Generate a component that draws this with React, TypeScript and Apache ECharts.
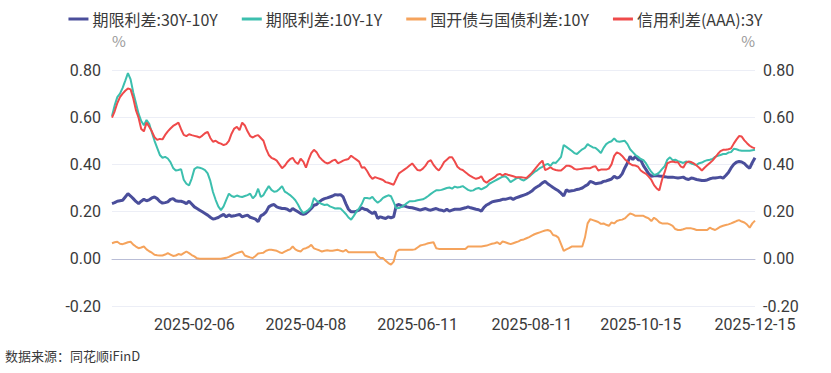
import React, { useEffect, useRef } from "react";
import * as echarts from "echarts";

// ---- data ----
const seriesNames = ["期限利差:30Y-10Y", "期限利差:10Y-1Y", "国开债与国债利差:10Y", "信用利差(AAA):3Y"];
const seriesColors = ["#4a4e9b", "#3cbfae", "#f5a35c", "#ef4a4a"];
const tickLabels = ["2025-02-06", "2025-04-08", "2025-06-11", "2025-08-11", "2025-10-15", "2025-12-15"];
const yTicks = [-0.2, 0, 0.2, 0.4, 0.6, 0.8];
const startDate = "2024-12-16";
const endDate = "2025-12-15";
const holidays = [
  "2025-01-01", "2025-01-28", "2025-01-29", "2025-01-30", "2025-01-31", "2025-02-03", "2025-02-04",
  "2025-04-04", "2025-05-01", "2025-05-02", "2025-05-05", "2025-06-02",
  "2025-10-01", "2025-10-02", "2025-10-03", "2025-10-06", "2025-10-07", "2025-10-08",
];

const term30_10 = [
  0.234, 0.238, 0.244, 0.246, 0.248, 0.262, 0.276, 0.266, 0.255, 0.243,
  0.234, 0.244, 0.252, 0.246, 0.250, 0.258, 0.262, 0.255, 0.243, 0.236,
  0.238, 0.241, 0.252, 0.255, 0.246, 0.244, 0.244, 0.240, 0.234, 0.244,
  0.232, 0.220, 0.213, 0.206, 0.199, 0.192, 0.185, 0.176, 0.168, 0.171,
  0.175, 0.182, 0.188, 0.178, 0.186, 0.180, 0.182, 0.185, 0.188, 0.178,
  0.182, 0.185, 0.176, 0.172, 0.168, 0.157, 0.182, 0.188, 0.199, 0.220,
  0.227, 0.230, 0.220, 0.216, 0.213, 0.213, 0.210, 0.202, 0.213, 0.206,
  0.199, 0.192, 0.188, 0.192, 0.202, 0.213, 0.227, 0.230, 0.241, 0.250,
  0.255, 0.258, 0.262, 0.266, 0.272, 0.270, 0.272, 0.262, 0.234, 0.210,
  0.199, 0.199, 0.202, 0.206, 0.216, 0.210, 0.208, 0.199, 0.192, 0.199,
  0.171, 0.178, 0.174, 0.171, 0.178, 0.174, 0.178, 0.226, 0.230, 0.224,
  0.224, 0.220, 0.217, 0.216, 0.213, 0.210, 0.206, 0.210, 0.213, 0.208,
  0.206, 0.210, 0.213, 0.208, 0.206, 0.202, 0.210, 0.202, 0.206, 0.210,
  0.210, 0.210, 0.213, 0.216, 0.220, 0.216, 0.213, 0.210, 0.208, 0.202,
  0.218, 0.228, 0.234, 0.241, 0.244, 0.246, 0.248, 0.252, 0.252, 0.255,
  0.258, 0.252, 0.258, 0.262, 0.266, 0.270, 0.274, 0.280, 0.287, 0.298,
  0.305, 0.312, 0.322, 0.328, 0.318, 0.310, 0.302, 0.295, 0.288, 0.278,
  0.266, 0.292, 0.286, 0.288, 0.290, 0.294, 0.296, 0.300, 0.308, 0.314,
  0.328, 0.324, 0.318, 0.320, 0.322, 0.328, 0.330, 0.334, 0.338, 0.350,
  0.342, 0.346, 0.360, 0.385, 0.406, 0.434, 0.420, 0.434, 0.420, 0.418,
  0.395, 0.378, 0.360, 0.350, 0.352, 0.353, 0.351, 0.350, 0.348, 0.346,
  0.346, 0.346, 0.344, 0.342, 0.344, 0.346, 0.339, 0.336, 0.342, 0.340,
  0.336, 0.334, 0.332, 0.332, 0.334, 0.339, 0.342, 0.342, 0.344, 0.346,
  0.342, 0.353, 0.366, 0.385, 0.400, 0.409, 0.412, 0.410, 0.404, 0.392,
  0.384, 0.408, 0.428,
];

const term10_1 = [
  0.605, 0.650, 0.685, 0.700, 0.724, 0.755, 0.787, 0.760, 0.705, 0.660,
  0.615, 0.584, 0.566, 0.588, 0.572, 0.535, 0.500, 0.470, 0.440, 0.428,
  0.432, 0.425, 0.410, 0.385, 0.374, 0.376, 0.380, 0.335, 0.318, 0.311,
  0.340, 0.380, 0.388, 0.386, 0.382, 0.376, 0.362, 0.330, 0.283, 0.250,
  0.222, 0.206, 0.222, 0.250, 0.276, 0.266, 0.262, 0.268, 0.264, 0.262,
  0.266, 0.270, 0.276, 0.256, 0.268, 0.297, 0.262, 0.270, 0.290, 0.308,
  0.292, 0.284, 0.286, 0.296, 0.308, 0.285, 0.278, 0.270, 0.260, 0.248,
  0.230, 0.208, 0.194, 0.200, 0.208, 0.220, 0.258, 0.246, 0.238, 0.232,
  0.228, 0.230, 0.222, 0.218, 0.213, 0.214, 0.213, 0.202, 0.190, 0.175,
  0.166, 0.182, 0.200, 0.214, 0.232, 0.258, 0.258, 0.255, 0.262, 0.248,
  0.238, 0.246, 0.258, 0.264, 0.269, 0.265, 0.240, 0.214, 0.215, 0.220,
  0.227, 0.236, 0.244, 0.244, 0.245, 0.248, 0.250, 0.252, 0.258, 0.266,
  0.275, 0.283, 0.290, 0.290, 0.292, 0.296, 0.300, 0.302, 0.297, 0.306,
  0.302, 0.304, 0.308, 0.300, 0.292, 0.288, 0.290, 0.297, 0.300, 0.294,
  0.300, 0.306, 0.318, 0.324, 0.330, 0.336, 0.342, 0.348, 0.350, 0.340,
  0.325, 0.332, 0.340, 0.344, 0.336, 0.332, 0.340, 0.348, 0.358, 0.368,
  0.375, 0.384, 0.390, 0.398, 0.402, 0.394, 0.408, 0.406, 0.418, 0.432,
  0.482, 0.474, 0.466, 0.458, 0.448, 0.444, 0.455, 0.464, 0.470, 0.486,
  0.478, 0.472, 0.470, 0.460, 0.448, 0.470, 0.486, 0.494, 0.498, 0.510,
  0.498, 0.496, 0.498, 0.500, 0.486, 0.464, 0.452, 0.440, 0.432, 0.423,
  0.418, 0.404, 0.385, 0.368, 0.355, 0.358, 0.366, 0.380, 0.392, 0.420,
  0.430, 0.418, 0.420, 0.414, 0.410, 0.406, 0.412, 0.410, 0.404, 0.400,
  0.398, 0.405, 0.408, 0.414, 0.418, 0.420, 0.423, 0.432, 0.436, 0.440,
  0.444, 0.444, 0.450, 0.452, 0.466, 0.464, 0.460, 0.458, 0.458, 0.458,
  0.458, 0.460, 0.462,
];

const cdbSpread10 = [
  0.066, 0.070, 0.072, 0.064, 0.062, 0.066, 0.070, 0.072, 0.060, 0.052,
  0.045, 0.048, 0.052, 0.040, 0.032, 0.026, 0.017, 0.015, 0.014, 0.014,
  0.018, 0.024, 0.018, 0.012, 0.014, 0.020, 0.017, 0.024, 0.031, 0.024,
  0.016, 0.010, 0.002, 0.000, 0.000, 0.000, 0.000, 0.000, 0.000, 0.000,
  0.000, 0.000, 0.002, 0.004, 0.008, 0.014, 0.020, 0.024, 0.028, 0.031,
  0.014, 0.010, 0.006, 0.003, 0.012, 0.022, 0.024, 0.026, 0.034, 0.038,
  0.038, 0.036, 0.034, 0.028, 0.024, 0.030, 0.036, 0.040, 0.052, 0.040,
  0.034, 0.031, 0.042, 0.045, 0.050, 0.059, 0.044, 0.040, 0.036, 0.031,
  0.034, 0.036, 0.034, 0.034, 0.036, 0.038, 0.034, 0.031, 0.038, 0.028,
  0.028, 0.028, 0.028, 0.028, 0.028, 0.028, 0.028, 0.028, 0.028, 0.028,
  0.012, 0.003, 0.003, -0.008, -0.018, -0.025, -0.012, 0.030, 0.038, 0.038,
  0.038, 0.038, 0.038, 0.038, 0.040, 0.048, 0.056, 0.059, 0.062, 0.066,
  0.068, 0.070, 0.045, 0.042, 0.042, 0.042, 0.042, 0.042, 0.042, 0.042,
  0.042, 0.042, 0.042, 0.042, 0.052, 0.052, 0.052, 0.052, 0.052, 0.052,
  0.054, 0.056, 0.060, 0.064, 0.066, 0.070, 0.062, 0.073, 0.070, 0.066,
  0.062, 0.066, 0.070, 0.074, 0.080, 0.082, 0.087, 0.092, 0.098, 0.104,
  0.108, 0.112, 0.116, 0.120, 0.122, 0.118, 0.101, 0.098, 0.090, 0.062,
  0.034, 0.040, 0.045, 0.052, 0.052, 0.052, 0.052, 0.052, 0.090, 0.150,
  0.168, 0.164, 0.160, 0.156, 0.148, 0.150, 0.144, 0.140, 0.154, 0.150,
  0.160, 0.164, 0.166, 0.171, 0.182, 0.192, 0.188, 0.182, 0.182, 0.182,
  0.182, 0.176, 0.171, 0.160, 0.174, 0.166, 0.155, 0.150, 0.150, 0.150,
  0.146, 0.140, 0.126, 0.122, 0.122, 0.125, 0.129, 0.129, 0.129, 0.126,
  0.122, 0.122, 0.122, 0.122, 0.122, 0.132, 0.126, 0.122, 0.129, 0.136,
  0.140, 0.143, 0.146, 0.150, 0.155, 0.160, 0.164, 0.158, 0.154, 0.145,
  0.132, 0.150, 0.162,
];

const credit3Y = [
  0.598, 0.625, 0.660, 0.685, 0.700, 0.712, 0.722, 0.718, 0.680, 0.630,
  0.598, 0.550, 0.540, 0.577, 0.560, 0.540, 0.515, 0.504, 0.508, 0.506,
  0.525, 0.540, 0.552, 0.563, 0.570, 0.577, 0.549, 0.525, 0.520, 0.528,
  0.524, 0.521, 0.518, 0.514, 0.522, 0.532, 0.538, 0.512, 0.496, 0.500,
  0.492, 0.488, 0.482, 0.486, 0.500, 0.530, 0.552, 0.559, 0.545, 0.577,
  0.565, 0.540, 0.520, 0.514, 0.521, 0.524, 0.512, 0.500, 0.466, 0.440,
  0.428, 0.423, 0.416, 0.400, 0.384, 0.394, 0.410, 0.422, 0.428, 0.410,
  0.402, 0.424, 0.412, 0.386, 0.420, 0.448, 0.462, 0.452, 0.432, 0.420,
  0.410, 0.404, 0.408, 0.416, 0.420, 0.405, 0.410, 0.416, 0.420, 0.423,
  0.437, 0.428, 0.420, 0.412, 0.386, 0.388, 0.372, 0.352, 0.339, 0.346,
  0.342, 0.338, 0.334, 0.325, 0.322, 0.318, 0.314, 0.339, 0.362, 0.370,
  0.378, 0.386, 0.395, 0.404, 0.390, 0.376, 0.374, 0.382, 0.395, 0.412,
  0.418, 0.398, 0.384, 0.374, 0.390, 0.410, 0.420, 0.430, 0.430, 0.412,
  0.390, 0.380, 0.376, 0.367, 0.358, 0.350, 0.344, 0.339, 0.342, 0.350,
  0.330, 0.322, 0.332, 0.339, 0.346, 0.356, 0.360, 0.353, 0.360, 0.356,
  0.353, 0.350, 0.346, 0.346, 0.346, 0.344, 0.342, 0.353, 0.364, 0.378,
  0.392, 0.405, 0.416, 0.376, 0.381, 0.388, 0.380, 0.376, 0.374, 0.374,
  0.384, 0.394, 0.394, 0.390, 0.381, 0.378, 0.380, 0.382, 0.384, 0.384,
  0.384, 0.390, 0.392, 0.374, 0.378, 0.378, 0.378, 0.382, 0.400, 0.436,
  0.451, 0.446, 0.436, 0.422, 0.412, 0.402, 0.396, 0.395, 0.390, 0.374,
  0.366, 0.360, 0.348, 0.334, 0.312, 0.298, 0.290, 0.335, 0.367, 0.405,
  0.410, 0.412, 0.409, 0.409, 0.392, 0.386, 0.406, 0.412, 0.410, 0.404,
  0.395, 0.386, 0.374, 0.386, 0.396, 0.406, 0.416, 0.430, 0.444, 0.456,
  0.462, 0.462, 0.464, 0.468, 0.488, 0.505, 0.520, 0.518, 0.502, 0.490,
  0.479, 0.472, 0.468,
];

const seriesData = [term30_10, term10_1, cdbSpread10, credit3Y];
const lineWidths = [3, 2, 2, 2];

function tradingDays(start: string, end: string, skip: string[]): string[] {
  const out: string[] = [];
  const d = new Date(start + "T00:00:00Z");
  const e = new Date(end + "T00:00:00Z");
  while (d <= e) {
    const wd = d.getUTCDay();
    const s = d.toISOString().slice(0, 10);
    if (wd !== 0 && wd !== 6 && skip.indexOf(s) < 0) out.push(s);
    d.setUTCDate(d.getUTCDate() + 1);
  }
  return out;
}

const FONT = "'Noto Sans CJK SC', 'Noto Sans', sans-serif";
const NUM_FONT = "Roboto, 'Noto Sans', sans-serif";

export default function App() {
  const ref = useRef<HTMLDivElement>(null);
  useEffect(() => {
    if (!ref.current) return;
    const chart = echarts.init(ref.current, undefined, { renderer: "svg" });
    const dates = tradingDays(startDate, endDate, holidays);
    const yAxisBase = (pos: "left" | "right") => ({
      type: "value" as const,
      position: pos,
      min: yTicks[0],
      max: yTicks[yTicks.length - 1],
      interval: 0.2,
      name: "%",
      nameLocation: "end" as const,
      nameGap: 22,
      nameTextStyle: { color: "#9a9a9a", fontSize: 15, fontFamily: FONT, align: pos === "left" ? "left" : "right" },
      axisLine: { show: false },
      axisTick: { show: false },
      axisLabel: {
        color: "#3a3a3a",
        fontSize: 16,
        fontFamily: NUM_FONT,
        margin: pos === "left" ? 11 : 8,
        formatter: (v: number) => v.toFixed(2),
      },
      splitLine: { show: pos === "left", lineStyle: { color: "#eceef6", width: 1 } },
    });
    chart.setOption({
      animation: false,
      backgroundColor: "#ffffff",
      textStyle: { fontFamily: FONT },
      legend: {
        top: 5,
        left: "center",
        itemWidth: 20,
        itemHeight: 3,
        itemGap: 24,
        icon: "rect",
        textStyle: { color: "#3a3a3a", fontSize: 16, lineHeight: 18, fontFamily: FONT, padding: [0, 0, 0, -1] },
        data: seriesNames,
      },
      grid: { left: 112, right: 76, top: 70, bottom: 67, containLabel: false },
      xAxis: {
        type: "category",
        data: dates,
        boundaryGap: false,
        axisLine: { show: true, lineStyle: { color: "#b9bdd6", width: 1 } },
        axisTick: { show: false },
        axisLabel: {
          color: "#3a3a3a",
          fontSize: 16,
          fontFamily: NUM_FONT,
          margin: 10,
          interval: (_i: number, v: string) => tickLabels.indexOf(v) >= 0,
          showMaxLabel: true,
        },
        splitLine: { show: false },
      },
      yAxis: [yAxisBase("left"), yAxisBase("right")],
      series: seriesNames.map((n, k) => ({
        name: n,
        type: "line",
        yAxisIndex: 0,
        data: seriesData[k],
        showSymbol: false,
        symbol: "none",
        smooth: false,
        lineStyle: { color: seriesColors[k], width: lineWidths[k] },
        itemStyle: { color: seriesColors[k] },
      })),
      graphic: [
        {
          type: "text",
          left: 5,
          top: 349,
          style: { text: "数据来源：同花顺iFinD", fill: "#3a3a3a", fontSize: 13, fontFamily: FONT },
        },
      ],
    });
    return () => chart.dispose();
  }, []);
  return (
    <div
      ref={ref}
      style={{ position: "absolute", left: 0, top: 0, width: 831, height: 373, background: "#fff" }}
    />
  );
}
